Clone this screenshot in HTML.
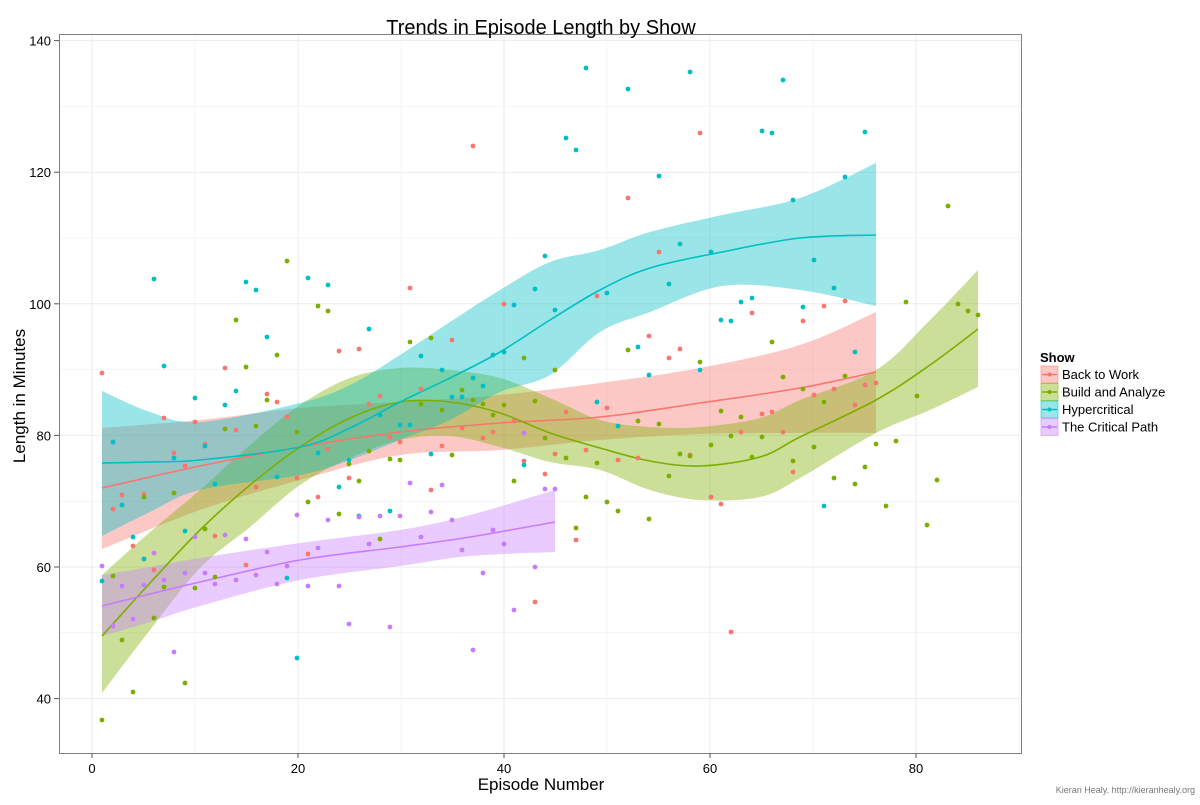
<!DOCTYPE html>
<html><head><meta charset="utf-8"><style>
body{margin:0;background:#fff;font-family:"Liberation Sans",Arial,sans-serif}
</style></head><body>
<svg id="s" width="1200" height="800" xmlns="http://www.w3.org/2000/svg" font-family="Liberation Sans, Arial, sans-serif">
<rect width="1200" height="800" fill="#fff"/>
<g id="grid" stroke="#ebebeb" stroke-width="1"></g>
<rect x="59.5" y="34.5" width="962" height="719" fill="none" stroke="#7f7f7f"/>
<g id="ribbons"></g><g id="lines" fill="none" stroke-width="1.6"></g><g id="pts"></g>
<g font-size="13" fill="#000" id="ax"></g>
<text x="541" y="34" font-size="20" text-anchor="middle">Trends in Episode Length by Show</text>
<text x="541" y="790" font-size="17" text-anchor="middle">Episode Number</text>
<text transform="translate(25,396) rotate(-90)" font-size="17" text-anchor="middle">Length in Minutes</text>
<text x="1195" y="793" font-size="9" fill="#777" text-anchor="end">Kieran Healy. http://kieranhealy.org</text>
<text x="1040" y="362" font-size="13" font-weight="bold">Show</text>
<g id="leg" font-size="13"></g>
</svg>
<script>
const C=['#F8766D','#7CAE00','#00BFC4','#C77CFF'];
const NS='http://www.w3.org/2000/svg';
function el(p,t,a,txt){const e=document.createElementNS(NS,t);for(const k in a)e.setAttribute(k,a[k]);if(txt)e.textContent=txt;document.getElementById(p).appendChild(e);return e;}
const X=e=>92+e*10.3, Y=v=>698.6-(v-40)*6.58;
for(let e=0;e<=90;e+=10){el('grid','line',{x1:X(e),x2:X(e),y1:35,y2:753,'stroke-width':e%20?0.5:1});}
for(let v=30;v<=150;v+=10){const y=Y(v);if(y<35||y>753)continue;el('grid','line',{x1:60,x2:1021,y1:y,y2:y,'stroke-width':v%20?0.5:1});}
for(let e=0;e<=80;e+=20){el('ax','line',{x1:X(e),x2:X(e),y1:753,y2:758,stroke:'#555'});el('ax','text',{x:X(e),y:773,'text-anchor':'middle'},''+e);}
for(let v=40;v<=140;v+=20){el('ax','line',{x1:54,x2:59,y1:Y(v),y2:Y(v),stroke:'#555'});el('ax','text',{x:51,y:Y(v)+5,'text-anchor':'end'},''+v);}
function cr(p){let d='M'+p[0][0]+','+p[0][1];for(let i=0;i<p.length-1;i++){const a=p[i-1]||p[i],b=p[i],c=p[i+1],n=p[i+2]||c;d+=`C${b[0]+(c[0]-a[0])/6},${b[1]+(c[1]-a[1])/6} ${c[0]-(n[0]-b[0])/6},${c[1]-(n[1]-b[1])/6} ${c[0]},${c[1]}`;}return d;}
// [x, line, top, bottom]
const L=[
[[102,488,428,549],[200,466,420,510],[300,447,408,480],[400,432,402,455],[500,423,395,450],[600,417,383,440],[700,403,368,434],[800,388,345,433],[876,372,312,433]],
[[102,636,575,693],[150,583,532,630],[200,530,490,568],[250,485,445,527],[300,447,405,485],[350,418,378,458],[400,402,368,440],[450,402,370,436],[500,413,378,447],[550,433,398,462],[600,448,420,470],[650,461,427,490],[700,466,427,500],[760,457,418,497],[800,437,400,478],[876,400,370,433],[930,365,320,410],[978,329,270,387]],
[[102,463,391,536],[150,462,412,512],[200,460,422,490],[300,447,403,475],[350,428,385,460],[400,402,355,440],[450,378,322,420],[500,352,290,392],[550,320,262,375],[600,290,250,332],[650,268,232,312],[722,252,215,286],[800,238,198,290],[876,235,163,306]],
[[102,606,575,636],[150,594,567,622],[200,582,558,606],[300,560,543,580],[400,547,530,566],[470,537,515,556],[555,522,490,552]]];
L.forEach((l,i)=>{const up=l.map(p=>[p[0],p[2]]),dn=l.map(p=>[p[0],p[3]]).reverse();
el('ribbons','path',{d:cr(up)+cr(dn).replace('M','L')+'Z',fill:C[i],'fill-opacity':0.4});
el('lines','path',{d:cr(l.map(p=>[p[0],p[1]])),stroke:C[i]});});
const P=[
"102,373 113,509 122,495 133,546 144,494 154,570 164,418 174,453 185,466 195,422 205,444 215,536 225,368 236,430 246,565 256,487 267,394 277,402 287,417 297,478 308,554 318,497 328,449 339,351 349,478 359,349 369,404 380,396 390,437 400,442 410,288 421,389 431,490 442,446 452,340 462,428 473,146 483,438 493,432 504,304 514,421 524,461 535,602 545,474 555,454 566,412 576,540 586,450 597,296 607,408 618,460 628,198 638,458 649,336 659,252 669,358 680,349 690,455 700,133 711,497 721,504 731,632 741,432 752,313 762,414 772,412 783,432 793,472 803,321 814,395 824,306 834,389 845,301 855,405 865,385 876,383",
"102,720 113,576 122,640 133,692 144,497 154,618 164,587 174,493 185,683 195,588 205,529 215,577 225,429 236,320 246,367 256,426 267,400 277,355 287,261 297,432 308,502 318,306 328,311 339,514 349,464 359,481 369,451 380,539 390,459 400,460 410,342 421,404 431,338 442,410 452,455 462,390 473,400 483,404 493,415 504,405 514,481 524,358 535,401 545,438 555,370 566,458 576,528 586,497 597,463 607,502 618,511 628,350 638,421 649,519 659,424 669,476 680,454 690,456 700,362 711,445 721,411 731,436 741,417 752,457 762,437 772,342 783,377 793,461 803,389 814,447 824,402 834,478 845,376 855,484 865,467 876,444 886,506 896,441 906,302 917,396 927,525 937,480 948,206 958,304 968,311 978,315",
"102,581 113,442 122,505 133,537 144,559 154,279 164,366 174,458 185,531 195,398 205,446 215,484 225,405 236,391 246,282 256,290 267,337 277,477 287,578 297,658 308,278 318,453 328,285 339,487 349,460 359,516 369,329 380,415 390,511 400,425 410,425 421,356 431,454 442,370 452,397 462,397 473,378 483,386 493,355 504,352 514,305 524,465 535,289 545,256 555,310 566,138 576,150 586,68 597,402 607,293 618,426 628,89 638,347 649,375 659,176 669,284 680,244 690,72 700,370 711,252 721,320 731,321 741,302 752,298 762,131 772,133 783,80 793,200 803,307 814,260 824,506 834,288 845,177 855,352 865,132",
"102,566 113,626 122,586 133,619 144,585 154,553 164,580 174,652 185,573 195,537 205,573 215,584 225,535 236,580 246,539 256,575 267,552 277,584 287,566 297,515 308,586 318,548 328,520 339,586 349,624 359,517 369,544 380,516 390,627 400,516 410,483 421,537 431,512 442,485 452,520 462,550 473,650 483,573 493,530 504,544 514,610 524,433 535,567 545,489 555,489"];
P.forEach((s,i)=>s.split(' ').forEach(q=>{const [x,y]=q.split(',');el('pts','circle',{cx:x,cy:y,r:2.4,fill:C[i]});}));
const N=['Back to Work','Build and Analyze','Hypercritical','The Critical Path'];
N.forEach((n,i)=>{const y=366+i*17.5;el('leg','rect',{x:1041,y:y,width:17,height:17,fill:C[i],'fill-opacity':0.4,stroke:C[i],'stroke-opacity':0.5});
el('leg','line',{x1:1042,x2:1057,y1:y+8.5,y2:y+8.5,stroke:C[i],'stroke-width':1.5});
el('leg','circle',{cx:1049.5,cy:y+8.5,r:2,fill:C[i]});
el('leg','text',{x:1062,y:y+13},n);});
</script>
</body></html>
